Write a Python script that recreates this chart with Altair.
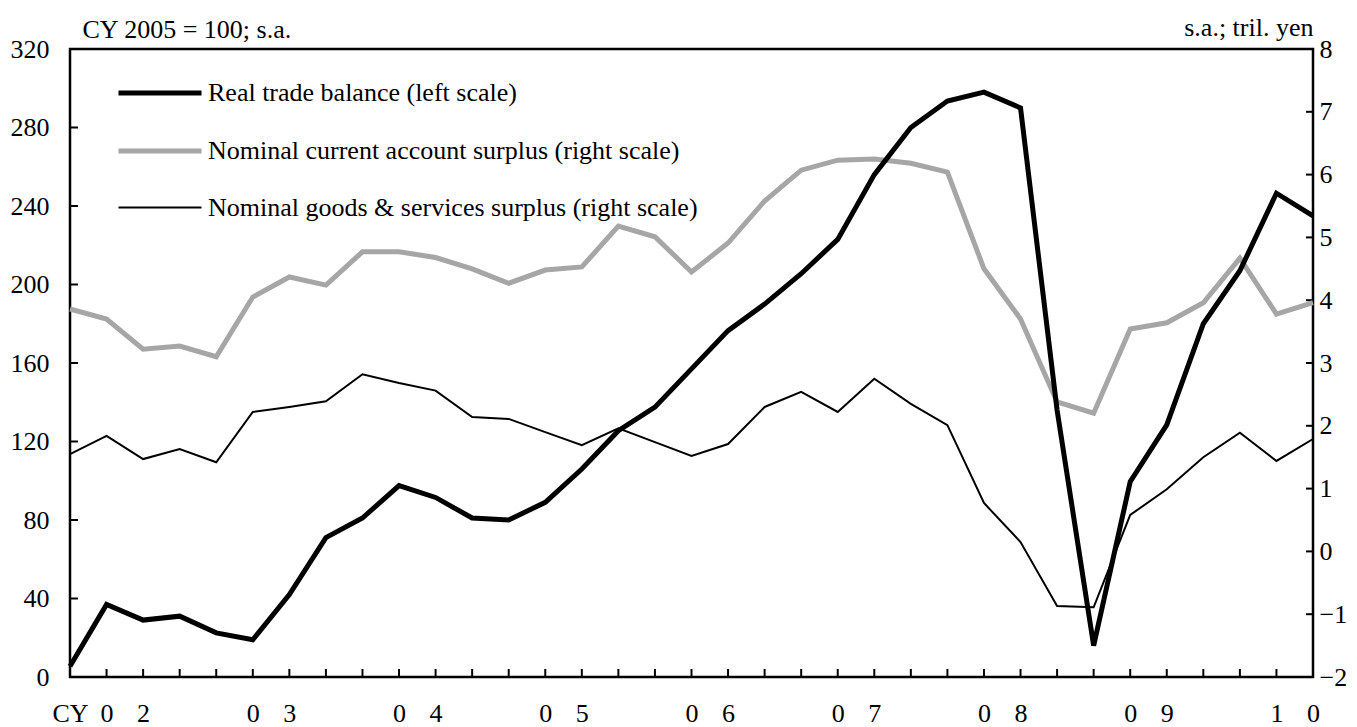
import json
import altair as alt
import pandas as pd

# ---------------- data (quarterly, 2002 Q1 .. 2010 Q3) ----------------
quarter_index = list(range(35))
x_labels = ["CY", "0", "2", "", "", "0", "3", "", "", "0", "4", "",
            "", "0", "5", "", "", "0", "6", "", "", "0", "7", "",
            "", "0", "8", "", "", "0", "9", "", "", "1", "0"]

series_names = ["Real trade balance (left scale)",
                "Nominal current account surplus (right scale)",
                "Nominal goods & services surplus (right scale)"]

real_trade_balance = [5.5, 37, 29, 31, 22.5, 19, 42, 71, 81, 97.5,
                      91.5, 81, 80, 89, 106, 125.5, 137.5, 157, 176.5, 190,
                      205.5, 223, 256, 280, 293.5, 298, 290, 136, 16, 99.5,
                      128.5, 180, 207, 246.5, 235]

current_account = [3.86, 3.70, 3.22, 3.27, 3.10, 4.05, 4.37, 4.24, 4.77, 4.77,
                   4.68, 4.50, 4.27, 4.48, 4.53, 5.18, 5.01, 4.45, 4.91, 5.58,
                   6.07, 6.23, 6.25, 6.18, 6.04, 4.50, 3.70, 2.38, 2.20, 3.54,
                   3.64, 3.96, 4.67, 3.78, 3.96]

goods_services = [1.55, 1.84, 1.47, 1.63, 1.42, 2.22, 2.30, 2.39, 2.82, 2.68,
                  2.56, 2.14, 2.11, 1.90, 1.69, 1.96, 1.74, 1.52, 1.71, 2.30,
                  2.54, 2.22, 2.75, 2.35, 2.01, 0.77, 0.15, -0.87, -0.89, 0.58,
                  0.99, 1.50, 1.89, 1.44, 1.79]

left_ticks = [0, 40, 80, 120, 160, 200, 240, 280, 320]
right_ticks = [-2, -1, 0, 1, 2, 3, 4, 5, 6, 7, 8]

# ---------------- tables ----------------
df_left = pd.DataFrame({"q": quarter_index, "value": real_trade_balance,
                        "series": series_names[0]})
df_right = pd.concat([
    pd.DataFrame({"q": quarter_index, "value": current_account, "series": series_names[1]}),
    pd.DataFrame({"q": quarter_index, "value": goods_services, "series": series_names[2]}),
])
df_lt = pd.DataFrame({"value": left_ticks})
df_rt = pd.DataFrame({"value": right_ticks})
df_xt = pd.DataFrame({"q": quarter_index})

W, H = 1243, 628
FONT = "Liberation Serif"
FS = 26

x_enc = alt.X("q:Q",
              scale=alt.Scale(domain=[0, 34], nice=False, zero=False),
              axis=alt.Axis(values=quarter_index,
                            labelExpr=json.dumps(x_labels) + "[datum.value]",
                            tickSize=0, domain=False, grid=False,
                            labelPadding=44, labelBaseline="alphabetic",
                            labelAngle=0,
                            labelOverlap=False, labelFlush=False,
                            labelBound=False, title=None))

left_axis = alt.Axis(values=left_ticks, tickSize=0, domain=False, grid=False,
                     labelPadding=21, title="CY 2005 = 100; s.a.",
                     titleAngle=0, titleX=12, titleY=-12, titleAlign="left",
                     titleBaseline="alphabetic")
right_axis = alt.Axis(values=right_ticks, orient="right", tickSize=0,
                      domain=False, grid=False, labelPadding=6,
                      title="s.a.; tril. yen", titleAngle=0, titleX=0,
                      titleY=-14, titleAlign="right", titleBaseline="alphabetic")

left_scale = alt.Scale(domain=[0, 320], nice=False, zero=False)
right_scale = alt.Scale(domain=[-2, 8], nice=False, zero=False)

legend_def = alt.Legend(orient="none", legendX=46, legendY=0,
                        title=None, symbolType="stroke",
                        symbolSize=6889, labelFontSize=FS,
                        labelFont=FONT, labelOffset=4,
                        rowPadding=1, labelLimit=0,
                        padding=0, labelColor="black")

color_enc = alt.Color("series:N",
                      scale=alt.Scale(domain=series_names,
                                      range=["#000000", "#a6a6a6", "#000000"]),
                      legend=legend_def)
sw_enc = alt.StrokeWidth("series:N",
                         scale=alt.Scale(type="ordinal", domain=series_names,
                                         range=[5, 5, 2]),
                         legend=legend_def)

# left-scale group
real_line = alt.Chart(df_left).mark_line().encode(
    x=x_enc,
    y=alt.Y("value:Q", scale=left_scale, axis=left_axis),
    color=color_enc, strokeWidth=sw_enc)
left_tick_marks = alt.Chart(df_lt).mark_rule(color="black", strokeWidth=2).encode(
    y=alt.Y("value:Q", scale=left_scale, axis=left_axis),
    x=alt.value(0), x2=alt.value(8))
x_tick_marks = alt.Chart(df_xt).mark_rule(color="black", strokeWidth=2).encode(
    x=x_enc, y=alt.value(H), y2=alt.value(H - 8))
left_group = alt.layer(x_tick_marks, left_tick_marks, real_line)

# right-scale group
right_lines = alt.Chart(df_right).mark_line().encode(
    x=x_enc,
    y=alt.Y("value:Q", scale=right_scale, axis=right_axis),
    color=color_enc, strokeWidth=sw_enc)
right_tick_marks = alt.Chart(df_rt).mark_rule(color="black", strokeWidth=2).encode(
    y=alt.Y("value:Q", scale=right_scale, axis=right_axis),
    x=alt.value(W), x2=alt.value(W - 7))
right_group = alt.layer(right_tick_marks, right_lines)

chart = alt.layer(right_group, left_group).resolve_scale(
    y="independent"
).properties(
    width=W, height=H,
    autosize="none",
    padding={"left": 62, "top": 41, "right": 36, "bottom": 50},
).configure_view(
    stroke="black", strokeWidth=2.5
).configure_axis(
    labelFont=FONT, labelFontSize=FS, labelColor="black",
    titleFont=FONT, titleFontSize=FS, titleFontWeight="normal", titleColor="black",
).configure_legend(
    labelFont=FONT, labelFontSize=FS
)

chart.save("out.html", embed_options={"renderer": "svg", "actions": False})
